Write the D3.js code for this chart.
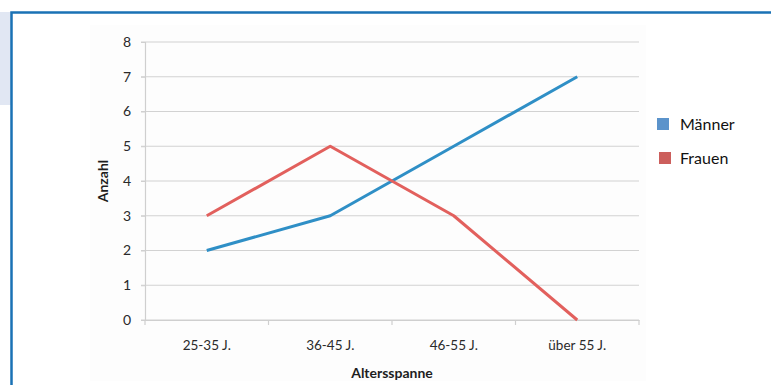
<!DOCTYPE html>
<html>
<head>
<meta charset="utf-8">
<script src="https://cdn.jsdelivr.net/npm/d3@7/dist/d3.min.js"></script>
<style>
  html, body { margin: 0; padding: 0; background: #fff; }
  svg { display: block; }
</style>
</head>
<body>
<svg id="chart" width="771" height="385"></svg>
<script>
// Altersverteilung nach Geschlecht
const categories = ["25-35 J.", "36-45 J.", "46-55 J.", "über 55 J."];
const maenner = [2, 3, 5, 7];
const frauen = [3, 5, 3, 0];
const yTicks = [0, 1, 2, 3, 4, 5, 6, 7, 8];
const seriesNames = ["Männer", "Frauen"];

const colors = { line: ["#2f8fc6", "#e2605d"], key: ["#5b93cb", "#cc5f5c"] };
const font = "Lato, 'Open Sans', sans-serif";

const svg = d3.select("#chart");

// page decoration: tinted margin strip and framing border
svg.append("rect").attr("x", 0).attr("y", 12).attr("width", 11).attr("height", 93).attr("fill", "#e1e7f3");
svg.append("path")
  .attr("d", "M11.5,385 L11.5,12.5 L771,12.5")
  .attr("fill", "none").attr("stroke", "#1a72b5").attr("stroke-width", 2.5);

// chart backdrop
svg.append("rect").attr("x", 90).attr("y", 25).attr("width", 556).attr("height", 356).attr("fill", "#fdfdfd");

const plot = { left: 145, right: 639, top: 42, bottom: 320 };

const x = d3.scaleBand().domain(categories).range([plot.left, plot.right]).paddingInner(0).paddingOuter(0);
const y = d3.scaleLinear().domain([0, 8]).range([plot.bottom, plot.top]);

// horizontal grid lines
svg.append("g").selectAll("line").data(yTicks).join("line")
  .attr("x1", plot.left - 4).attr("x2", plot.right)
  .attr("y1", d => y(d)).attr("y2", d => y(d))
  .attr("stroke", "#d2d2d2").attr("stroke-width", 1.2);

// y axis
const yAxis = svg.append("g").attr("transform", `translate(${plot.left},0)`)
  .call(d3.axisLeft(y).tickValues(yTicks).tickSize(4).tickPadding(10).tickFormat(d3.format("d")));
yAxis.select(".domain").attr("stroke", "#cfcfcf").attr("stroke-width", 1.2);
yAxis.selectAll(".tick line").attr("stroke", "#cfcfcf");
yAxis.selectAll("text").attr("fill", "#2a2a2a").style("font-family", font).style("font-size", "14px");

// x axis with ticks at category boundaries
const xAxis = svg.append("g").attr("transform", `translate(0,${plot.bottom})`)
  .call(d3.axisBottom(x).tickSize(0).tickPadding(20));
xAxis.select(".domain").attr("stroke", "#cfcfcf").attr("stroke-width", 1.2);
xAxis.selectAll("text").attr("fill", "#2a2a2a").style("font-family", font).style("font-size", "13.5px");
const bounds = categories.map(c => x(c)).concat([plot.right]);
svg.append("g").selectAll("line").data(bounds).join("line")
  .attr("x1", d => d).attr("x2", d => d)
  .attr("y1", plot.bottom).attr("y2", plot.bottom + 5)
  .attr("stroke", "#cfcfcf").attr("stroke-width", 1.2);

// axis titles
svg.append("text").attr("x", (plot.left + plot.right) / 2).attr("y", 378)
  .attr("text-anchor", "middle").attr("fill", "#1e1e1e")
  .style("font-family", font).style("font-size", "14px").style("font-weight", "bold")
  .text("Altersspanne");
svg.append("text").attr("transform", "translate(108,181) rotate(-90)")
  .attr("text-anchor", "middle").attr("fill", "#1e1e1e")
  .style("font-family", font).style("font-size", "14px").style("font-weight", "bold")
  .text("Anzahl");

// series lines
const line = d3.line().x((d, i) => x(categories[i]) + x.bandwidth() / 2).y(d => y(d));
[maenner, frauen].forEach((vals, k) => {
  svg.append("path").datum(vals).attr("d", line)
    .attr("fill", "none").attr("stroke", colors.line[k]).attr("stroke-width", 3)
    .attr("stroke-linejoin", "round");
});

// legend
const legend = svg.append("g");
seriesNames.forEach((name, k) => {
  const cy = 124 + k * 34;
  legend.append("rect").attr("x", 657 + k * 2).attr("y", cy - 6).attr("width", 12).attr("height", 12).attr("fill", colors.key[k]);
  legend.append("text").attr("x", 680).attr("y", cy + 6).attr("fill", "#111")
    .style("font-family", font).style("font-size", "16px").text(name);
});
</script>
</body>
</html>
